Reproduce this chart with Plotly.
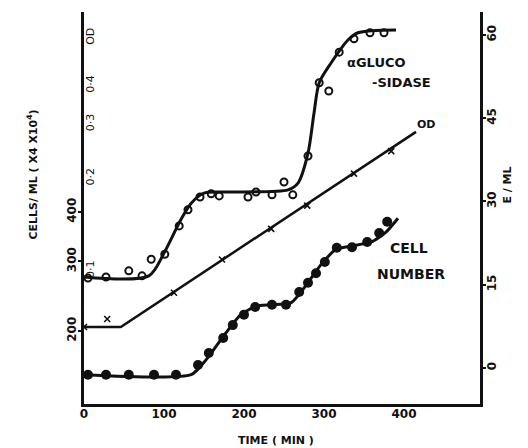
import plotly.graph_objects as go

# ---- data ----
# alpha-glucosidase (E/ML, right axis): measured points
gluc_t = [5, 27.5, 56, 72.5, 84, 101, 119, 130, 145, 159, 169, 205, 215, 235, 250, 261, 280, 294, 306, 319, 337.5, 357.5, 375]
gluc_e = [16.2, 16.4, 17.5, 16.6, 19.6, 20.5, 25.6, 28.5, 30.8, 31.4, 31.0, 30.8, 31.7, 31.2, 33.5, 31.2, 38.2, 51.4, 49.9, 56.9, 59.3, 60.4, 60.4]
# alpha-glucosidase fitted curve
gluc_fit_t = [0, 81, 100, 121, 134, 150, 175, 255, 267.5, 280, 287.5, 294, 309, 330, 342.5, 390]
gluc_fit_e = [16.4, 16.6, 20.7, 26.7, 29.7, 31.5, 31.7, 32.1, 33.3, 38.7, 45.9, 51.4, 55.0, 59.1, 60.4, 60.9]

# cell number (cells/ml x4 x10^4, left log axis): measured points
cell_t = [5, 27.5, 56, 87.5, 115, 142.5, 156, 174, 186, 200, 214, 235, 252.5, 269, 280, 290, 301, 316, 335, 354, 369, 379]
cell_n = [155, 155, 155, 155, 155, 164, 176, 192, 207, 220, 230, 233, 233, 251, 265, 280, 299, 325, 326, 336, 354, 378]
# cell number fitted curve
cell_fit_t = [0, 134, 152.5, 177.5, 196, 215, 234, 259, 277.5, 296, 315, 334, 359, 377.5, 392.5]
cell_fit_n = [155, 155, 169, 198, 220, 231, 233, 236, 261, 294, 322, 328, 336, 356, 386]

# OD (inner left log axis): measured points and line
od_t = [0, 29, 112.5, 172.5, 234, 279, 337.5, 384]
od_v = [0.0658, 0.0698, 0.085, 0.109, 0.137, 0.163, 0.207, 0.245]
od_line_t = [0, 46, 415]
od_line_v = [0.0658, 0.0658, 0.283]

# axis ticks
x_ticks = [0, 100, 200, 300, 400]
cell_ticks = [200, 300, 400]
od_ticks = [0.1, 0.2, 0.3, 0.4]
od_ticktext = ["0·1", "0·2", "0·3", "0·4"]
e_ticks = [0, 15, 30, 45, 60]

INK = "#111111"
FONT = "DejaVu Sans"

fig = go.Figure()

fig.add_trace(go.Scatter(x=gluc_fit_t, y=gluc_fit_e, yaxis="y3", mode="lines",
                         line=dict(color=INK, width=3, shape="spline", smoothing=0.8),
                         hoverinfo="skip", showlegend=False))
fig.add_trace(go.Scatter(x=gluc_t, y=gluc_e, yaxis="y3", mode="markers",
                         marker=dict(symbol="circle-open", size=7, color=INK, line=dict(width=2, color=INK)),
                         showlegend=False))

fig.add_trace(go.Scatter(x=cell_fit_t, y=cell_fit_n, yaxis="y", mode="lines",
                         line=dict(color=INK, width=3, shape="spline", smoothing=0.6),
                         hoverinfo="skip", showlegend=False))
fig.add_trace(go.Scatter(x=cell_t, y=cell_n, yaxis="y", mode="markers",
                         marker=dict(symbol="circle", size=10, color=INK),
                         showlegend=False))

fig.add_trace(go.Scatter(x=od_line_t, y=od_line_v, yaxis="y2", mode="lines",
                         line=dict(color=INK, width=2.5),
                         hoverinfo="skip", showlegend=False))
fig.add_trace(go.Scatter(x=od_t, y=od_v, yaxis="y2", mode="markers",
                         marker=dict(symbol="x-thin", size=6, color=INK, line=dict(width=1.6, color=INK)),
                         showlegend=False))

tick_font = dict(family=FONT, size=12, color=INK, weight="bold")

# page body has a default 8px margin, so the figure is drawn 8px smaller
fig.update_layout(
    width=520, height=440,
    margin=dict(l=76, r=48, t=4, b=44, autoexpand=False),
    paper_bgcolor="white", plot_bgcolor="white",
    font=dict(family=FONT, color=INK),
    xaxis=dict(range=[0, 495], tickvals=x_ticks, showgrid=False, zeroline=False, automargin=False,
               showline=True, linewidth=3, linecolor=INK, ticks="", ticklabelstandoff=-3,
               tickfont=tick_font),
    yaxis=dict(type="log", range=[2.1162, 3.1086], tickvals=cell_ticks, showgrid=False, automargin=False,
               zeroline=False, showline=True, linewidth=3, linecolor=INK, ticks="outside",
               ticklen=3, tickwidth=1.5, tickcolor=INK, tickangle=-90, ticklabelstandoff=-3,
               tickfont=tick_font),
    yaxis2=dict(type="log", range=[-1.432, -0.159], tickvals=od_ticks, ticktext=od_ticktext,
                overlaying="y", side="right", anchor="free", position=0, showgrid=False,
                zeroline=False, automargin=False, showline=False, ticks="", tickangle=-90,
                ticklabelstandoff=-2, tickfont=dict(family=FONT, size=11, color=INK)),
    yaxis3=dict(range=[-6.49, 64.14], tickvals=e_ticks, overlaying="y", side="right", automargin=False,
                anchor="x", showgrid=False, zeroline=False, showline=True, linewidth=3,
                linecolor=INK, ticks="outside", ticklen=3, tickwidth=1.5, tickcolor=INK,
                tickangle=-90, ticklabelstandoff=-4, tickfont=tick_font),
)

def note(text, x, y, size=13, angle=0, bold=True):
    fig.add_annotation(text=text, x=x, y=y, xref="paper", yref="paper", showarrow=False,
                       textangle=angle, xanchor="center", yanchor="middle",
                       font=dict(family=FONT, size=size, color=INK,
                                 weight="bold" if bold else "normal"))

note("CELLS/ ML ( X4 X10<sup>4</sup>)", -0.13, 0.584, size=11, angle=-90)
note("E / ML", 1.07, 0.559, size=11, angle=-90)
note("TIME ( MIN )", 0.485, -0.092, size=11)
note("OD", 0.0175, 0.939, size=11, angle=-90, bold=False)
note("αGLUCO", 0.7375, 0.872, size=13)
note("-SIDASE", 0.8025, 0.821, size=13)
note("OD", 0.8625, 0.714, size=11)
note("CELL", 0.82, 0.398, size=14)
note("NUMBER", 0.825, 0.332, size=14)

fig.write_html("out.html")
